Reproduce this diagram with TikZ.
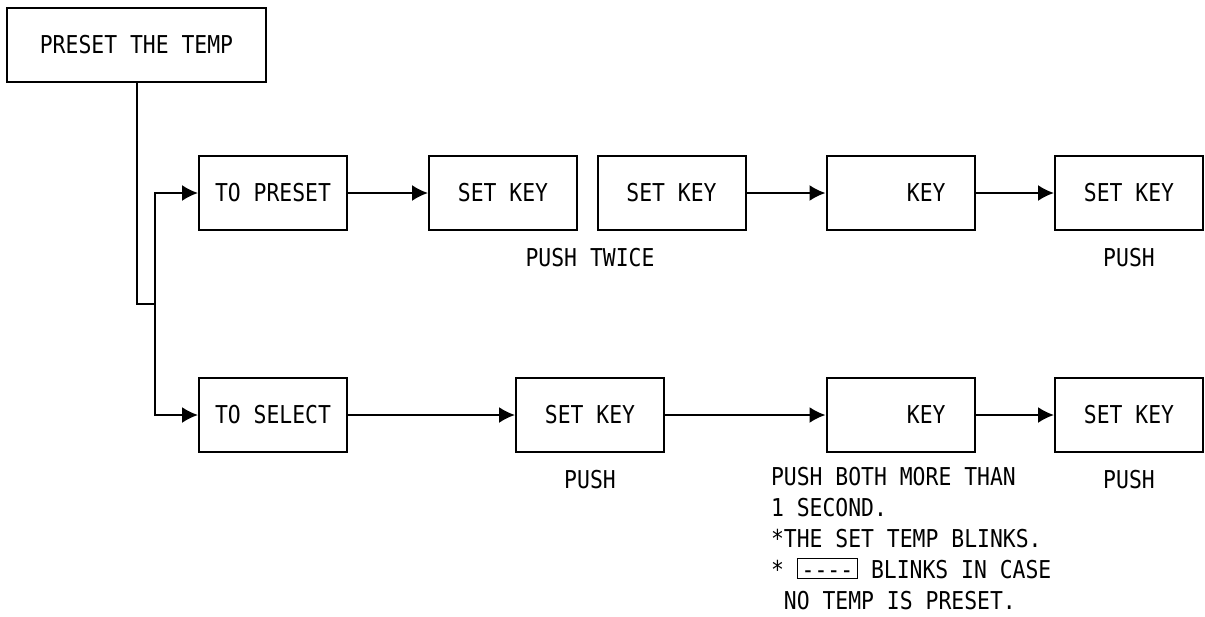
\documentclass[tikz,border=0pt]{standalone}
\usepackage{fontspec}
\setmonofont[FakeStretch=0.87]{DejaVu Sans Mono}
\usetikzlibrary{arrows.meta}

% little display box with dashes
\newcommand{\blankdisp}{{\setlength{\fboxsep}{0pt}\setlength{\fboxrule}{0.45pt}\fbox{\rule{0pt}{9.5pt}\hspace{2pt}-{}-{}-{}-\hspace{2pt}}}}

\begin{document}
\begin{tikzpicture}[x=0.5pt,y=-0.5pt,line width=1pt,>={Latex[length=8pt,width=8pt]},
    every node/.style={font=\ttfamily\fontsize{12.3}{15.5}\selectfont},
    box/.style={draw,minimum width=74pt,minimum height=37pt,inner sep=0pt}]
            \useasboundingbox (0,0) rectangle (1205,616);

            % start box
            \node[box,minimum width=129.5pt] (temp) at (136.5,45) {PRESET THE TEMP};

            % upper row
            \node[box] (preset) at (273,193) {TO PRESET};
            \node[box] (setA) at (503,193) {SET KEY};
            \node[box] (setB) at (671.5,193) {SET KEY};
            \node[box] (keyA) at (900.5,193) {\phantom{SET} KEY};
            \node[box] (setC) at (1129,193) {SET KEY};

            % lower row
            \node[box] (select) at (273,415) {TO SELECT};
            \node[box] (setD) at (590,415) {SET KEY};
            \node[box] (keyB) at (900.5,415) {\phantom{SET} KEY};
            \node[box] (setE) at (1129,415) {SET KEY};

            % text under the boxes
            \node (twice) at (590,258) {PUSH TWICE};
            \node (pushC) at (1129,258) {PUSH};
            \node (pushD) at (590,480) {PUSH};
            \node (pushE) at (1129,480) {PUSH};
            \node[anchor=north west,inner sep=0pt,align=left] (note) at (770,466)
                {PUSH BOTH MORE THAN\\1 SECOND.\\*THE SET TEMP BLINKS.\\* \blankdisp{} BLINKS IN CASE\\\ NO TEMP IS PRESET.};

            % branch
            \coordinate (junc) at (155,304);
            \draw (temp.south) |- (junc);
            \draw[->] (junc) |- (preset.west);
            \draw[->] (junc) |- (select.west);

            % arrows
            \draw[->] (preset) -- (setA);
            \draw[->] (setB) -- (keyA);
            \draw[->] (keyA) -- (setC);
            \draw[->] (select) -- (setD);
            \draw[->] (setD) -- (keyB);
            \draw[->] (keyB) -- (setE);

        \end{tikzpicture}
\end{document}
